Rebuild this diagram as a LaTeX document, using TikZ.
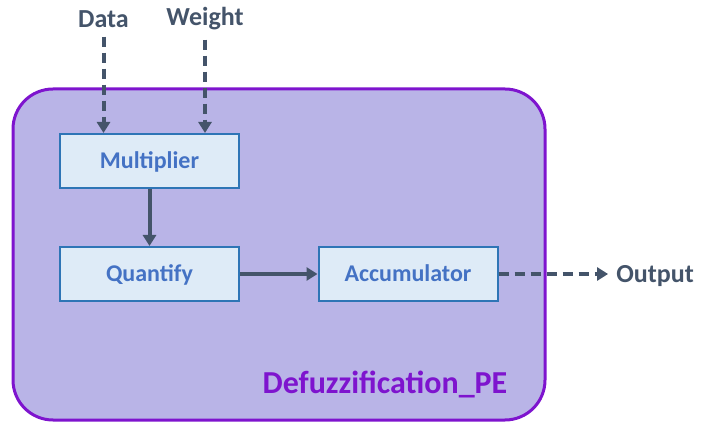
\documentclass[tikz,border=0pt]{standalone}
\usepackage{fontspec}
\setmainfont{Carlito}
\usepackage{tikz}
\usetikzlibrary{arrows.meta,positioning}
\definecolor{peFill}{HTML}{B9B4E7}
\definecolor{peLine}{HTML}{7E14CE}
\definecolor{boxFill}{HTML}{DEEBF7}
\definecolor{boxLine}{HTML}{2E75B6}
\definecolor{boxText}{HTML}{4472C4}
\definecolor{wire}{HTML}{44546A}
\tikzset{
  pebox/.style={draw=peLine, fill=peFill, line width=3pt, rounded corners=40pt,
    minimum width=532pt, minimum height=331pt},
  unit/.style={draw=boxLine, fill=boxFill, line width=2pt, minimum width=179pt,
    minimum height=54pt, text=boxText, text height=18pt, text depth=2pt,
    font=\fontsize{24}{28}\selectfont\bfseries},
  port/.style={text=wire, font=\fontsize{26}{30}\selectfont\bfseries, inner sep=4pt},
  wire/.style={draw=wire, line width=4pt, -{Triangle[length=11pt,width=13pt]}},
  dwire/.style={wire, dash pattern=on 10pt off 6pt}
}
\begin{document}
\begin{tikzpicture}[x=1pt,y=-1pt]
                    \useasboundingbox (0,0) rectangle (701,435);
                    \node[pebox] (pe) at (279,254.5) {};
                    \node[text=peLine, font=\fontsize{32}{36}\selectfont\bfseries] (pename) at (385,384) {Defuzzification\_PE};
                    \node[unit] (mult) at (149.5,161) {Multiplier};
                    \node[unit] (quant) at (149.5,274) {Quantify};
                    \node[unit] (acc) at (408,274) {Accumulator};
                    \node[port] (dat) at (103.5,19) {Data};
                    \node[port] (wgt) at (205,19) {Weight};
                    \node[port] (out) at (655,276) {Output};
                    \draw[dwire, shorten <=5pt] (dat.south) -- (dat.south |- mult.north);
                    \draw[dwire, shorten <=5pt] (wgt.south) -- (wgt.south |- mult.north);
                    \draw[wire] (mult) -- (quant);
                    \draw[wire] (quant) -- (acc);
                    \draw[dwire, shorten >=4pt] (acc.east) -- (out.west |- acc.east);
                \end{tikzpicture}
\end{document}
